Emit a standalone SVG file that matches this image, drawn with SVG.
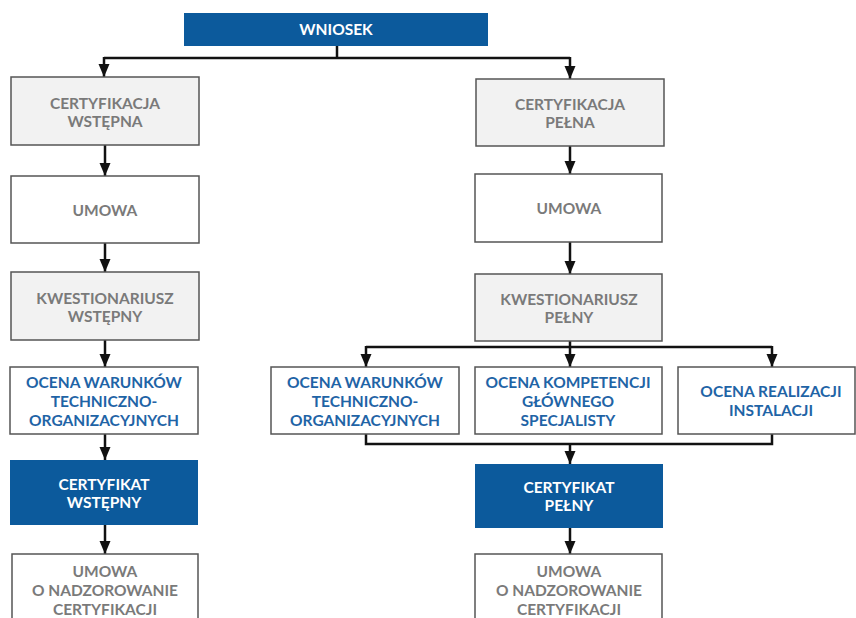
<svg xmlns="http://www.w3.org/2000/svg" width="856" height="618" viewBox="0 0 856 618">
<defs>
<style>
.box{stroke:#555;stroke-width:1.5}
.grey{fill:#f2f2f2}
.white{fill:#fff}
.blue{fill:#0c5a9c;stroke:none}
text{font-family:Lato,"Noto Sans","Liberation Sans",sans-serif;font-size:15.5px;font-weight:700;text-anchor:middle}
.tg{fill:#7a7a7a}
.tb{fill:#1f64a6}
.tw{fill:#fff}
.con{fill:none;stroke:#111;stroke-width:2.5}
</style>
<marker id="ad" markerUnits="userSpaceOnUse" markerWidth="12" markerHeight="14" viewBox="0 0 12 14" refX="6" refY="13" orient="0">
<path d="M0.5,0 L11.5,0 L6,13 Z" fill="#111"/>
</marker>
</defs>
<rect width="856" height="618" fill="#fff"/>

<g id="connectors">
<polyline class="con" points="337,46 337,58"/>
<polyline class="con" points="104,58 570,58"/>
<polyline class="con" points="104,57 104,77" marker-end="url(#ad)"/>
<polyline class="con" points="570,57 570,79" marker-end="url(#ad)"/>
<line class="con" x1="105" y1="145" x2="105" y2="176" marker-end="url(#ad)"/>
<line class="con" x1="105" y1="243" x2="105" y2="272" marker-end="url(#ad)"/>
<line class="con" x1="105" y1="340" x2="105" y2="367" marker-end="url(#ad)"/>
<line class="con" x1="105" y1="434" x2="105" y2="460" marker-end="url(#ad)"/>
<line class="con" x1="105" y1="525" x2="105" y2="554" marker-end="url(#ad)"/>
<line class="con" x1="570" y1="146" x2="570" y2="174" marker-end="url(#ad)"/>
<line class="con" x1="570" y1="242" x2="570" y2="274" marker-end="url(#ad)"/>
<polyline class="con" points="570,341 570,347"/>
<polyline class="con" points="366,347 772,347"/>
<line class="con" x1="366" y1="346" x2="366" y2="367" marker-end="url(#ad)"/>
<line class="con" x1="570" y1="346" x2="570" y2="367" marker-end="url(#ad)"/>
<line class="con" x1="772" y1="346" x2="772" y2="367" marker-end="url(#ad)"/>
<polyline class="con" points="366,434 366,444 772,444 772,434"/>
<line class="con" x1="570" y1="444" x2="570" y2="464" marker-end="url(#ad)"/>
<line class="con" x1="570" y1="528" x2="570" y2="554" marker-end="url(#ad)"/>
</g>

<g id="wniosek">
<rect class="blue" x="184" y="13" width="304" height="33"/>
<text class="tw" x="336" y="35">WNIOSEK</text>
</g>

<g id="cert-wstepna">
<rect class="box grey" x="11" y="77" width="188" height="68"/>
<text class="tg" x="105" y="108.5">CERTYFIKACJA</text>
<text class="tg" x="105" y="126.5">WSTĘPNA</text>
</g>
<g id="umowa-l">
<rect class="box white" x="11" y="176" width="188" height="67"/>
<text class="tg" x="105" y="215.5">UMOWA</text>
</g>
<g id="kwest-wstepny">
<rect class="box grey" x="11" y="272" width="188" height="68"/>
<text class="tg" x="105" y="303.5">KWESTIONARIUSZ</text>
<text class="tg" x="105" y="321.5">WSTĘPNY</text>
</g>
<g id="ocena-l">
<rect class="box white" x="10" y="367" width="188" height="67"/>
<text class="tb" x="104" y="388">OCENA WARUNKÓW</text>
<text class="tb" x="104" y="407">TECHNICZNO-</text>
<text class="tb" x="104" y="425.5">ORGANIZACYJNYCH</text>
</g>
<g id="cert-wstepny">
<rect class="blue" x="10" y="460" width="188" height="65"/>
<text class="tw" x="104" y="490">CERTYFIKAT</text>
<text class="tw" x="104" y="508">WSTĘPNY</text>
</g>
<g id="umowa-nadzor-l">
<rect class="box white" x="12" y="554" width="186" height="70"/>
<text class="tg" x="105" y="577">UMOWA</text>
<text class="tg" x="105" y="596">O NADZOROWANIE</text>
<text class="tg" x="105" y="615">CERTYFIKACJI</text>
</g>

<g id="cert-pelna">
<rect class="box grey" x="476" y="79" width="188" height="67"/>
<text class="tg" x="570" y="110">CERTYFIKACJA</text>
<text class="tg" x="570" y="128">PEŁNA</text>
</g>
<g id="umowa-r">
<rect class="box white" x="475" y="174" width="187" height="68"/>
<text class="tg" x="569" y="213.5">UMOWA</text>
</g>
<g id="kwest-pelny">
<rect class="box grey" x="475" y="274" width="187" height="67"/>
<text class="tg" x="569" y="305">KWESTIONARIUSZ</text>
<text class="tg" x="569" y="323">PEŁNY</text>
</g>
<g id="ocena-war-r">
<rect class="box white" x="271" y="367" width="188" height="67"/>
<text class="tb" x="365" y="388">OCENA WARUNKÓW</text>
<text class="tb" x="365" y="407">TECHNICZNO-</text>
<text class="tb" x="365" y="425.5">ORGANIZACYJNYCH</text>
</g>
<g id="ocena-komp">
<rect class="box white" x="475" y="367" width="187" height="67"/>
<text class="tb" x="568" y="388">OCENA KOMPETENCJI</text>
<text class="tb" x="568" y="407">GŁÓWNEGO</text>
<text class="tb" x="568" y="425.5">SPECJALISTY</text>
</g>
<g id="ocena-real">
<rect class="box white" x="678" y="367" width="177" height="67"/>
<text class="tb" x="771" y="397">OCENA REALIZACJI</text>
<text class="tb" x="771" y="415.5">INSTALACJI</text>
</g>
<g id="cert-pelny">
<rect class="blue" x="475" y="464" width="188" height="64"/>
<text class="tw" x="569" y="493">CERTYFIKAT</text>
<text class="tw" x="569" y="511">PEŁNY</text>
</g>
<g id="umowa-nadzor-r">
<rect class="box white" x="475" y="554" width="187" height="70"/>
<text class="tg" x="569" y="577">UMOWA</text>
<text class="tg" x="569" y="596">O NADZOROWANIE</text>
<text class="tg" x="569" y="615">CERTYFIKACJI</text>
</g>
</svg>
